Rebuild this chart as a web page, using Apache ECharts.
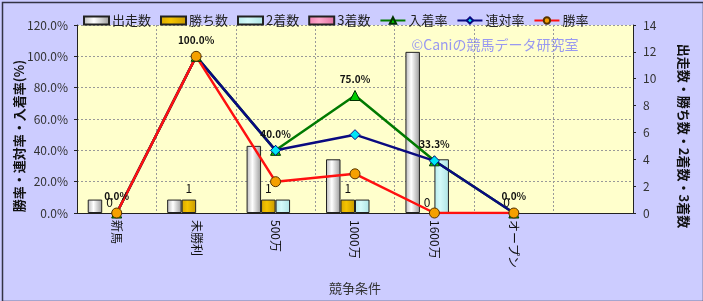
<!DOCTYPE html>
<html><head><meta charset="utf-8">
<script src="https://cdn.jsdelivr.net/npm/echarts@6/dist/echarts.min.js"></script>
<style>html,body{margin:0;padding:0;background:#fff}#c{width:703px;height:301px}</style>
</head><body><div id="c"></div>
<script>
var categories = ['新馬', '未勝利', '500万', '1000万', '1600万', 'オープン', ''];
var runs = [1, 1, 5, 4, 12, 0, null];
var wins = [0, 1, 1, 1, 0, 0, null];
var seconds = [0, 0, 1, 1, 4, 0, null];
var thirds = [0, 0, 0, 0, 0, 0, null];
var placeRate = [0, 100, 40, 75, 33.3, 0, null];
var quinellaRate = [0, 100, 40, 50, 33.3, 0, null];
var winRate = [0, 100, 20, 25, 0, 0, null];
var leftTicks = [0, 20, 40, 60, 80, 100, 120];
var rightTicks = [0, 2, 4, 6, 8, 10, 12, 14];

var FONT = '"Noto Sans CJK JP", "Noto Sans", sans-serif';
function grad(a, b, c) {
  return new echarts.graphic.LinearGradient(0, 0, 1, 0, [
    {offset: 0, color: a}, {offset: 0.4, color: b}, {offset: 1, color: c}]);
}
function hideZero(arr) {
  return arr.map(function (v) { return v === 0 ? {value: 0, itemStyle: {borderWidth: 0, opacity: 0}} : v; });
}
var chart = echarts.init(document.getElementById('c'), null, {renderer: 'canvas'});
var barBase = {type: 'bar', yAxisIndex: 1, barGap: '0%', barCategoryGap: '27%'};
chart.setOption({
  animation: false,
  backgroundColor: '#CCCCFF',
  textStyle: {fontFamily: FONT},
  grid: {left: 77, right: 70, top: 25, bottom: 88, show: true, backgroundColor: '#FFFFCC', borderWidth: 0},
  legend: {
    top: 9, left: 78, itemGap: 9, itemWidth: 25, itemHeight: 8,
    textStyle: {fontFamily: FONT, fontSize: 13, color: '#222', padding: [0, 0, 0, -2]},
    data: [
      {name: '出走数', icon: 'rect'}, {name: '勝ち数', icon: 'rect'},
      {name: '2着数', icon: 'rect'}, {name: '3着数', icon: 'rect'},
      {name: '入着率'}, {name: '連対率'}, {name: '勝率'}
    ]
  },
  graphic: [
    {type: 'rect', left: 0, top: 0, shape: {width: 701, height: 299}, style: {fill: null, stroke: '#333344', lineWidth: 1.5}, silent: true},
    {type: 'text', x: 495, y: 45, style: {text: '©Caniの競馬データ研究室', fill: '#9999F0', font: '14px ' + FONT, textAlign: 'center', textVerticalAlign: 'middle'}},
    {type: 'text', x: 19, y: 136, rotation: Math.PI / 2, style: {text: '勝率・連対率・入着率(%)', fill: '#111', font: 'bold 13px ' + FONT, textAlign: 'center', textVerticalAlign: 'middle'}},
    {type: 'text', x: 684, y: 136, rotation: -Math.PI / 2, style: {text: '出走数・勝ち数・2着数・3着数', fill: '#111', font: 'bold 13px ' + FONT, textAlign: 'center', textVerticalAlign: 'middle'}}
  ],
  xAxis: {
    type: 'category', data: categories, boundaryGap: true,
    name: '競争条件', nameLocation: 'middle', nameGap: 69,
    nameTextStyle: {fontSize: 13, color: '#333', fontFamily: FONT},
    axisLine: {lineStyle: {color: '#222', width: 1}},
    axisTick: {show: false},
    axisLabel: {rotate: -90, fontSize: 12, color: '#111', margin: 7, fontFamily: FONT, interval: 0},
    splitLine: {show: true, lineStyle: {color: '#999', type: [2, 2], width: 1}}
  },
  yAxis: [
    {type: 'value', min: leftTicks[0], max: leftTicks[leftTicks.length - 1], interval: leftTicks[1] - leftTicks[0],
      axisLine: {show: true, lineStyle: {color: '#222'}},
      axisTick: {show: true, length: 3, lineStyle: {color: '#222'}},
      axisLabel: {formatter: function (v) { return v.toFixed(1) + '%'; }, fontSize: 12, color: '#333', margin: 9, fontFamily: FONT},
      splitLine: {show: true, lineStyle: {color: '#999', type: [2, 2], width: 1}}},
    {type: 'value', min: rightTicks[0], max: rightTicks[rightTicks.length - 1], interval: rightTicks[1] - rightTicks[0],
      axisLine: {show: true, lineStyle: {color: '#222'}},
      axisTick: {show: true, length: 3, lineStyle: {color: '#222'}},
      axisLabel: {fontSize: 12, color: '#333', margin: 10, fontFamily: FONT},
      splitLine: {show: false}}
  ],
  series: [
    Object.assign({}, barBase, {name: '出走数', data: hideZero(runs),
      itemStyle: {borderColor: '#222', borderWidth: 1, color: grad('#B8B8B8', '#FFFFFF', '#9A9A9A')}}),
    Object.assign({}, barBase, {name: '勝ち数', data: wins.map(function (v) { return v === 0 ? {value: 0, itemStyle: {borderWidth: 0, color: 'rgba(0,0,0,0)'}} : v; }),
      itemStyle: {borderColor: '#222', borderWidth: 1, color: grad('#D9A800', '#F5C400', '#C89A00')},
      label: {show: true, position: 'top', distance: 5, fontSize: 12, color: '#111', fontFamily: FONT}}),
    Object.assign({}, barBase, {name: '2着数', data: hideZero(seconds),
      itemStyle: {borderColor: '#222', borderWidth: 1, color: grad('#B8ECEC', '#D4FAFA', '#AEE4E4')}}),
    Object.assign({}, barBase, {name: '3着数', data: hideZero(thirds),
      itemStyle: {borderColor: '#222', borderWidth: 1, color: grad('#F080B0', '#FFA8CC', '#E070A0')}}),
    {name: '入着率', type: 'line', yAxisIndex: 0, data: placeRate,
      lineStyle: {color: '#007A00', width: 2.5}, symbol: 'triangle', symbolSize: 10,
      itemStyle: {color: '#00CC00', borderColor: '#003300', borderWidth: 1},
      label: {show: true, position: 'top', distance: 6, fontSize: 10, fontWeight: 'bold', color: '#111', fontFamily: FONT,
        formatter: function (p) { return p.value.toFixed(1) + '%'; }}},
    {name: '連対率', type: 'line', yAxisIndex: 0, data: quinellaRate,
      lineStyle: {color: '#0A0A80', width: 2.5}, symbol: 'diamond', symbolSize: 10,
      itemStyle: {color: '#00E5F5', borderColor: '#0A0A80', borderWidth: 1}},
    {name: '勝率', type: 'line', yAxisIndex: 0, data: winRate,
      lineStyle: {color: '#FF1010', width: 2.5}, symbol: 'circle', symbolSize: 10,
      itemStyle: {color: '#F5A000', borderColor: '#553300', borderWidth: 1}}
  ]
});
</script></body></html>
